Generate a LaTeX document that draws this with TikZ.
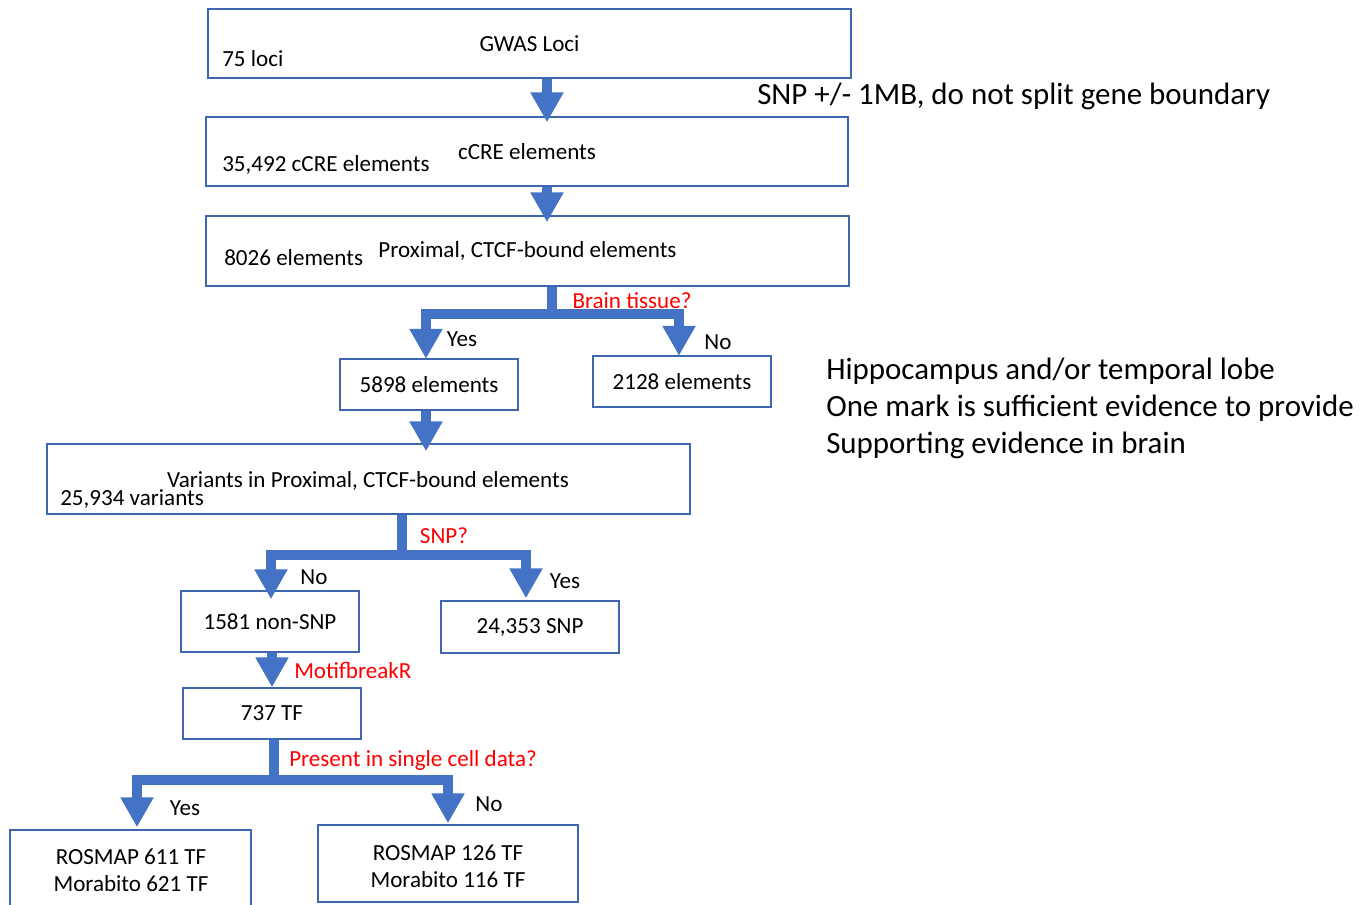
\documentclass[tikz,border=0pt]{standalone}
\usepackage{fontspec}
\setmainfont{Carlito}
\usetikzlibrary{arrows.meta,calc}
\definecolor{flowblue}{HTML}{4472C4}
\definecolor{boxblue}{HTML}{3F66B0}
\definecolor{qred}{HTML}{FF0000}
\begin{document}
\begin{tikzpicture}[x=0.75pt,y=-0.75pt,
  box/.style={draw=boxblue,line width=1.1pt,rectangle,inner sep=0pt,font=\fontsize{17.3}{20}\selectfont},
  lbl/.style={inner sep=0pt,font=\fontsize{17.3}{20}\selectfont},
  qlbl/.style={lbl,text=qred},
  note/.style={inner sep=0pt,font=\fontsize{23.2}{26}\selectfont,anchor=west},
  flow/.style={draw=flowblue,line width=7.5pt,line join=miter,
    -{Triangle[width=23.5pt,length=22.5pt]},color=flowblue},
  bar/.style={draw=flowblue,line width=7.5pt,line join=miter}
]
\useasboundingbox (0,0) rectangle (1371,904);
\clip (0,0) rectangle (1371,904);

% boxes
\node[box,minimum width=643*0.75pt,minimum height=69*0.75pt] (gwas) at (529.5,43.5) {GWAS Loci};
\node[box,minimum width=642*0.75pt,minimum height=69*0.75pt] (ccre) at (527,151.5) {cCRE elements};
\node[box,minimum width=643*0.75pt,minimum height=70*0.75pt] (prox) at (527.5,251) {\raisebox{-1.5pt}{Proximal, CTCF-bound elements}};
\node[box,minimum width=178*0.75pt,minimum height=51*0.75pt] (e5898) at (429,384.5) {5898 elements};
\node[box,minimum width=178*0.75pt,minimum height=51*0.75pt] (e2128) at (682,381.5) {2128 elements};
\node[box,minimum width=643*0.75pt,minimum height=70*0.75pt] (var) at (368.5,479) {};
\node[box,minimum width=178*0.75pt,minimum height=61*0.75pt] (nonsnp) at (270,621.5) {1581 non-SNP};
\node[box,minimum width=178*0.75pt,minimum height=52*0.75pt] (snp) at (530,627) {24,353 SNP};
\node[box,minimum width=178*0.75pt,minimum height=51*0.75pt] (tf) at (272,713.5) {737 TF};
\node[box,minimum width=241*0.75pt,minimum height=80*0.75pt,align=center] (yes611) at (130.5,870) {};
\node[box,minimum width=260*0.75pt,minimum height=77*0.75pt,align=center] (no126) at (448,863.5) {};

% texts inside boxes
\node[lbl,align=center] (t611) at (131,870) {ROSMAP 611 TF\\[0.5pt]Morabito 621 TF};
\node[lbl,align=center] (t126) at (448,866) {ROSMAP 126 TF\\[0.5pt]Morabito 116 TF};
\node[lbl,anchor=west] (t75) at (222,59) {75 loci};
\node[lbl,anchor=west] (t35) at (222,165) {35,492 cCRE elements};
\node[lbl,anchor=west] (t8026) at (224,258) {8026 elements};
\node[lbl] (tvar) at (368,481) {Variants in Proximal, CTCF-bound elements};
\node[lbl,anchor=west] (t25) at (60,499) {25,934 variants};

% side notes
\node[note] (n1) at (757,96) {SNP +/- 1MB, do not split gene boundary};
\node[note] (n2) at (826,371) {Hippocampus and/or temporal lobe};
\node[note] (n3) at (826,408) {One mark is sufficient evidence to provide};
\node[note] (n4) at (826,445) {Supporting evidence in brain};

% arrows
\draw[flow] ($(gwas.south)+(17.5,0)$) -- ($(ccre.north)+(20,6)$);
\draw[flow] ($(ccre.south)+(20,0)$) -- ($(prox.north)+(19.5,7)$);

\coordinate (j1) at ($(prox.south)+(24.5,27)$);
\draw[bar] ($(prox.south)+(24.5,0)$) -- ($(j1)+(0,5)$);
\draw[flow] (j1) -| ($(e5898.north)+(-3,0.5)$);
\draw[flow] (j1) -| ($(e2128.north)+(-3,0.5)$);
\node[qlbl] (qbrain) at (632,301) {Brain tissue?};
\node[lbl] (ybrain) at (462,339) {Yes};
\node[lbl] (nbrain) at (718,342) {No};

\draw[flow] ($(e5898.south)+(-3,0)$) -- ($(var.north)+(57.5,8)$);

\coordinate (j2) at ($(var.south)+(33.5,40)$);
\draw[bar] ($(var.south)+(33.5,0)$) -- ($(j2)+(0,5)$);
\draw[flow] (j2) -| ($(nonsnp.north)+(1,9)$);
\draw[flow] (j2) -| ($(snp.north)+(-4,-2)$);
\node[qlbl] (qsnp) at (444,536) {SNP?};
\node[lbl] (nsnp) at (314,577) {No};
\node[lbl] (ysnp) at (565,581) {Yes};

\draw[flow] ($(nonsnp.south)+(2,0)$) -- ($(tf.north)+(0,0)$);
\node[qlbl,anchor=west] (qmotif) at (294,670) {MotifbreakR};

\coordinate (j3) at ($(tf.south)+(2,40)$);
\draw[bar] ($(tf.south)+(2,0)$) -- ($(j3)+(0,5)$);
\draw[flow] (j3) -| ($(yes611.north)+(6.5,-2)$);
\draw[flow] (j3) -| ($(no126.north)+(0,-1)$);
\node[qlbl,anchor=west] (qsc) at (289,760) {Present in single cell data?};
\node[lbl] (ysc) at (185,808) {Yes};
\node[lbl] (nsc) at (489,804) {No};
\end{tikzpicture}
\end{document}
